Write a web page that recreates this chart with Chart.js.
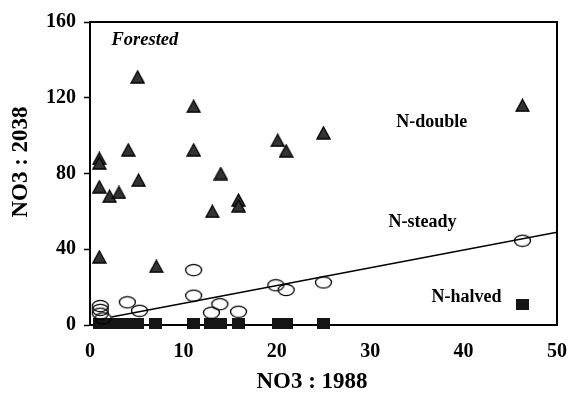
<!DOCTYPE html>
<html>
<head>
<meta charset="utf-8">
<script src="https://cdn.jsdelivr.net/npm/chart.js@4.4.1/dist/chart.umd.min.js"></script>
<style>
  html, body { margin: 0; padding: 0; background: #fff; }
  #wrap { width: 582px; height: 394px; }
</style>
</head>
<body>
<div id="wrap"><canvas id="no3Chart" width="582" height="394"></canvas></div>
<script>
// values (NO3 in 1988 vs projected 2038)
const xTicks = [0, 10, 20, 30, 40, 50];
const yTicks = [0, 40, 80, 120, 160];

const doubleX = [1.0, 1.0, 1.0, 2.1, 3.1, 4.1, 5.1, 5.2, 1.0, 7.1, 11.1, 11.1, 13.1, 14.0, 15.9, 15.9, 20.1, 21.0, 25.0, 46.3];
const doubleY = [88, 85.5, 73, 68, 70, 92.5, 131, 76.5, 36, 31, 115.5, 92.5, 60, 80, 66, 63, 97.5, 92, 101.5, 116];

const steadyX = [1.1, 1.1, 1.1, 1.4, 4.0, 5.3, 11.1, 11.1, 13.0, 13.9, 15.9, 19.9, 21.0, 25.0, 46.3];
const steadyY = [10, 8, 6, 3.5, 12, 7.5, 29, 15.5, 6.5, 11, 7, 21, 18.5, 22.5, 44.5];

const halvedX = [1.0, 2.0, 3.0, 4.2, 5.1, 7.0, 11.1, 12.9, 14.0, 15.9, 20.2, 21.0, 25.0, 46.3];
const halvedY = [1, 1, 1, 1, 1, 1, 1, 1, 1, 1, 1, 1, 1, 11];

const fitX = [2.3, 50];
const fitY = [4.2, 49];

function pairs(xs, ys) {
    return xs.map(function(x, i) { return { x: x, y: ys[i] }; });
}

// marker images
function triangleMark() {
    const c = document.createElement('canvas');
    c.width = 15; c.height = 14;
    const g = c.getContext('2d');
    g.beginPath();
    g.moveTo(7.5, 1); g.lineTo(14, 13); g.lineTo(1, 13); g.closePath();
    g.fillStyle = '#333';
    g.fill();
    g.lineWidth = 1.3;
    g.strokeStyle = '#000';
    g.stroke();
    return c;
}
function ovalMark() {
    const c = document.createElement('canvas');
    c.width = 19; c.height = 14;
    const g = c.getContext('2d');
    g.beginPath();
    g.ellipse(9.5, 7, 8, 5.6, 0, 0, Math.PI * 2);
    g.lineWidth = 1.3;
    g.strokeStyle = '#000';
    g.stroke();
    return c;
}
function squareMark() {
    const c = document.createElement('canvas');
    c.width = 13; c.height = 11;
    const g = c.getContext('2d');
    g.fillStyle = '#151515';
    g.fillRect(0, 0, 13, 11);
    return c;
}

const serif = '"Liberation Serif", "Times New Roman", serif';
const nb = '\u00a0\u00a0\u00a0\u00a0';

// frame + in-plot labels
const framePlugin = {
    id: 'frame',
    afterDatasetsDraw(chart) {
        const ctx = chart.ctx;
        const a = chart.chartArea;
        const xs = chart.scales.x, ys = chart.scales.y;
        ctx.save();
        ctx.strokeStyle = '#000';
        ctx.lineWidth = 2;
        ctx.beginPath();
        ctx.moveTo(a.left, a.top);
        ctx.lineTo(a.right, a.top);
        ctx.lineTo(a.right, a.bottom);
        ctx.stroke();

        ctx.fillStyle = '#000';
        ctx.textBaseline = 'middle';
        ctx.font = 'italic bold 18.5px ' + serif;
        ctx.textAlign = 'left';
        ctx.fillText('Forested', xs.getPixelForValue(2.3), ys.getPixelForValue(150.5));

        ctx.font = 'bold 18px ' + serif;
        ctx.textAlign = 'center';
        ctx.fillText('N-double', xs.getPixelForValue(36.6), ys.getPixelForValue(107));
        ctx.fillText('N-steady', xs.getPixelForValue(35.6), ys.getPixelForValue(54.4));
        ctx.fillText('N-halved', xs.getPixelForValue(40.3), ys.getPixelForValue(14.8));
        ctx.restore();
    }
};

new Chart(document.getElementById('no3Chart').getContext('2d'), {
    type: 'scatter',
    data: {
        datasets: [{
            label: 'N-double',
            data: pairs(doubleX, doubleY),
            pointStyle: triangleMark(),
            clip: false
        }, {
            label: 'N-steady',
            data: pairs(steadyX, steadyY),
            pointStyle: ovalMark(),
            clip: false
        }, {
            label: 'N-halved',
            data: pairs(halvedX, halvedY),
            pointStyle: squareMark(),
            clip: false
        }, {
            label: 'fit',
            data: pairs(fitX, fitY),
            showLine: true,
            pointRadius: 0,
            borderColor: '#000',
            borderWidth: 1.6
        }]
    },
    options: {
        responsive: false,
        animation: false,
        events: [],
        layout: { padding: { left: 0, top: 22, right: 11, bottom: 0 } },
        plugins: {
            legend: { display: false },
            tooltip: { enabled: false }
        },
        scales: {
            x: {
                type: 'linear',
                min: xTicks[0],
                max: xTicks[xTicks.length - 1],
                afterBuildTicks(s) { s.ticks = xTicks.map(v => ({ value: v })); },
                afterFit(s) { s.height = 69; },
                ticks: { color: '#000', padding: 15, font: { family: serif, size: 20, weight: 'bold' } },
                grid: { display: false, drawTicks: false },
                border: { color: '#000', width: 2 },
                title: {
                    display: true,
                    text: 'NO3 : 1988' + nb,
                    color: '#000',
                    padding: { top: 0, bottom: 0 },
                    font: { family: serif, size: 23, weight: 'bold', lineHeight: 1 }
                }
            },
            y: {
                min: yTicks[0],
                max: yTicks[yTicks.length - 1],
                afterBuildTicks(s) { s.ticks = yTicks.map(v => ({ value: v })); },
                afterFit(s) { s.width = 90; },
                ticks: { color: '#000', padding: 8, font: { family: serif, size: 20, weight: 'bold' } },
                grid: { drawOnChartArea: false, tickLength: 6, color: '#000', tickWidth: 1.5 },
                border: { color: '#000', width: 2 },
                title: {
                    display: true,
                    text: nb + 'NO3 : 2038',
                    color: '#000',
                    padding: { top: 10, bottom: 0 },
                    font: { family: serif, size: 23, weight: 'bold', lineHeight: 1 }
                }
            }
        }
    },
    plugins: [framePlugin]
});
</script>
</body>
</html>
